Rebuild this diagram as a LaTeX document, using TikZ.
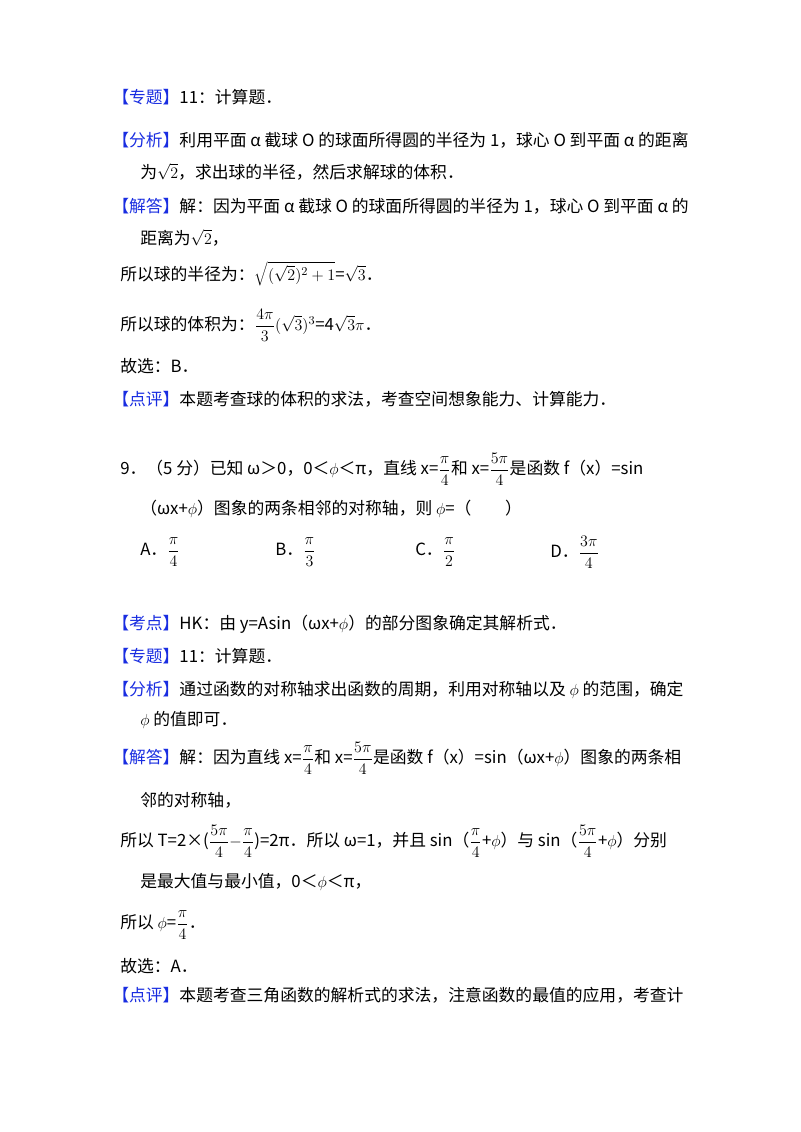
\documentclass[tikz,border=0pt]{standalone}
\usepackage{fontspec}
\setmainfont{Noto Sans CJK SC}
\definecolor{tagblue}{RGB}{25,45,225}
\newcommand{\tg}[1]{{\color{tagblue}【#1】}}
\newcommand{\fr}[2]{$\displaystyle\frac{#1}{#2}$}
\begin{document}
\begin{tikzpicture}[x=0.75pt,y=-0.75pt,
  ln/.style={anchor=west,inner sep=0pt,font=\fontsize{12.6pt}{14pt}\selectfont}]
\useasboundingbox[fill=white] (0,0) rectangle (800,1132);
\node[ln] (l1) at (112,97) {\tg{专题}11：计算题．};
\node[ln] (l2) at (112,140) {\tg{分析}利用平面 α 截球 O 的球面所得圆的半径为 1，球心 O 到平面 α 的距离};
\node[ln] (l3) at (140,172) {为$\sqrt{2}$，求出球的半径，然后求解球的体积．};
\node[ln] (l4) at (112,206) {\tg{解答}解：因为平面 α 截球 O 的球面所得圆的半径为 1，球心 O 到平面 α 的};
\node[ln] (l5) at (140,238) {距离为$\sqrt{2}$，};
\node[ln] (l6) at (120,274) {所以球的半径为：$\sqrt{(\sqrt{2})^{2}+1}$=$\sqrt{3}$．};
\node[ln] (l7) at (120,325) {所以球的体积为：\fr{4\pi}{3}$(\sqrt{3})^{3}$=4$\sqrt{3}\pi$．};
\node[ln] (l8) at (120,366) {故选：B．};
\node[ln] (l9) at (112,399) {\tg{点评}本题考查球的体积的求法，考查空间想象能力、计算能力．};
\node[ln] (q1) at (120,469) {9．（5 分）已知 ω＞0，0＜$\phi$＜π，直线 x=\fr{\pi}{4}和 x=\fr{5\pi}{4}是函数 f（x）=sin};
\node[ln] (q2) at (140,509) {（ωx+$\phi$）图象的两条相邻的对称轴，则 $\phi$=（\quad\quad）};
\node[ln] (oa) at (140,552) {A．\fr{\pi}{4}};
\node[ln] (ob) at (275,552) {B．\fr{\pi}{3}};
\node[ln] (oc) at (415,552) {C．\fr{\pi}{2}};
\node[ln] (od) at (550,552) {D．\fr{3\pi}{4}};
\node[ln] (m1) at (112,624) {\tg{考点}HK：由 y=Asin（ωx+$\phi$）的部分图象确定其解析式．};
\node[ln] (m2) at (112,656) {\tg{专题}11：计算题．};
\node[ln] (m3) at (112,690) {\tg{分析}通过函数的对称轴求出函数的周期，利用对称轴以及 $\phi$ 的范围，确定};
\node[ln] (m4) at (140,720) {$\phi$ 的值即可．};
\node[ln] (m5) at (112,758) {\tg{解答}解：因为直线 x=\fr{\pi}{4}和 x=\fr{5\pi}{4}是函数 f（x）=sin（ωx+$\phi$）图象的两条相};
\node[ln] (m6) at (140,800) {邻的对称轴，};
\node[ln] (m7) at (120,841) {所以 T=2×(\fr{5\pi}{4}$-$\fr{\pi}{4})=2π．所以 ω=1，并且 sin（\fr{\pi}{4}+$\phi$）与 sin（\fr{5\pi}{4}+$\phi$）分别};
\node[ln] (m8) at (140,882) {是最大值与最小值，0＜$\phi$＜π，};
\node[ln] (m9) at (120,925) {所以 $\phi$=\fr{\pi}{4}．};
\node[ln] (m10) at (120,966) {故选：A．};
\node[ln] (m11) at (112,995) {\tg{点评}本题考查三角函数的解析式的求法，注意函数的最值的应用，考查计};
\end{tikzpicture}
\end{document}
